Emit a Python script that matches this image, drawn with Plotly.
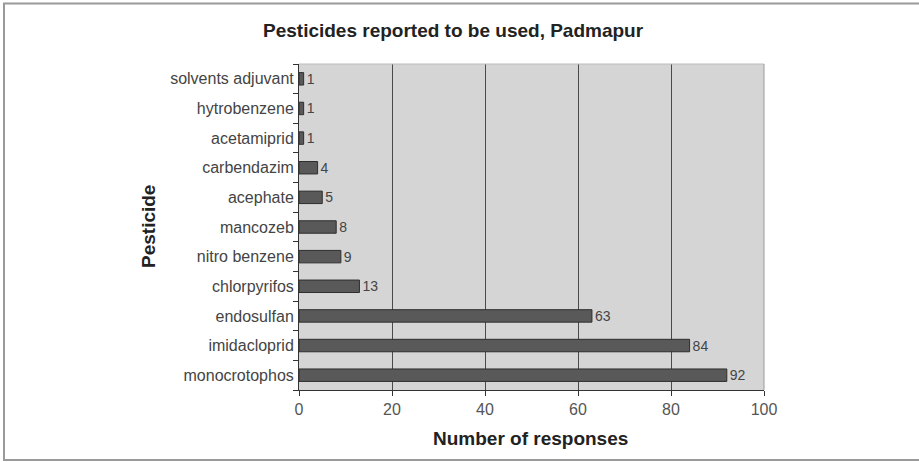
import plotly.graph_objects as go

categories = ["monocrotophos", "imidacloprid", "endosulfan", "chlorpyrifos", "nitro benzene",
              "mancozeb", "acephate", "carbendazim", "acetamiprid", "hytrobenzene", "solvents adjuvant"]
responses = [92, 84, 63, 13, 9, 8, 5, 4, 1, 1, 1]
x_ticks = [0, 20, 40, 60, 80, 100]

L, R, T, B = 299, 155, 64, 72
W, H = 919, 462
pw, ph = W - L - R, H - T - B

def px(x):
    return (x - L) / pw

def py(y):
    return (H - B - y) / ph

FONT = "Liberation Sans, Arial, sans-serif"

fig = go.Figure(go.Bar(
    x=responses, y=categories, orientation="h",
    marker=dict(color="#595959", line=dict(color="#2e2e2e", width=1)),
    width=0.42,
    text=[str(v) for v in responses], textposition="outside",
    constraintext="none",
    textfont=dict(family=FONT, size=14, color="#444"),
    cliponaxis=False,
))

fig.update_layout(
    width=W, height=H,
    margin=dict(l=L, r=R, t=T, b=B),
    paper_bgcolor="white", plot_bgcolor="#d5d5d5",
    showlegend=False,
    font=dict(family=FONT, color="#333"),
    xaxis=dict(range=[0, 100], tickvals=x_ticks, showgrid=True, gridcolor="#4a4a4a", gridwidth=1,
               showline=True, linecolor="#333", linewidth=1, ticks="outside", ticklen=5,
               tickcolor="#333", tickfont=dict(size=16, color="#555"), zeroline=False, fixedrange=True),
    yaxis=dict(type="category", categoryorder="array", categoryarray=categories,
               showline=True, linecolor="#333", linewidth=1, ticks="outside", ticklen=5,
               tickcolor="#333", tickson="boundaries", showgrid=False,
               tickfont=dict(size=16, color="#444"), ticklabelstandoff=1, fixedrange=True),
    annotations=[
        dict(text="<b>Pesticides reported to be used, Padmapur</b>", xref="paper", yref="paper",
             x=px(453), y=py(31), showarrow=False, font=dict(size=19, color="#222"),
             xanchor="center", yanchor="middle"),
        dict(text="<b>Pesticide</b>", xref="paper", yref="paper", x=px(148), y=py(227),
             showarrow=False, textangle=-90, font=dict(size=19, color="#222"),
             xanchor="center", yanchor="middle"),
        dict(text="<b>Number of responses</b>", xref="paper", yref="paper", x=px(530), y=py(438),
             showarrow=False, font=dict(size=19, color="#222"), xanchor="center", yanchor="middle"),
    ],
    shapes=[
        dict(type="line", xref="paper", yref="paper", x0=0, x1=1, y0=1, y1=1,
             line=dict(color="#bdbdbd", width=1)),
        dict(type="line", xref="paper", yref="paper", x0=1, x1=1, y0=0, y1=1,
             line=dict(color="#9a9a9a", width=1)),
        dict(type="line", xref="paper", yref="paper", x0=px(4), x1=px(4), y0=py(3), y1=py(460),
             line=dict(color="#9a9a9a", width=2)),
        dict(type="line", xref="paper", yref="paper", x0=px(3), x1=px(919), y0=py(3.5), y1=py(3.5),
             line=dict(color="#9a9a9a", width=2)),
        dict(type="line", xref="paper", yref="paper", x0=px(3), x1=px(919), y0=py(460), y1=py(460),
             line=dict(color="#9a9a9a", width=2)),
    ],
)

fig.write_html("out.html", config={"displayModeBar": False},
               post_script="document.body.style.margin='0';document.body.style.overflow='hidden';")
